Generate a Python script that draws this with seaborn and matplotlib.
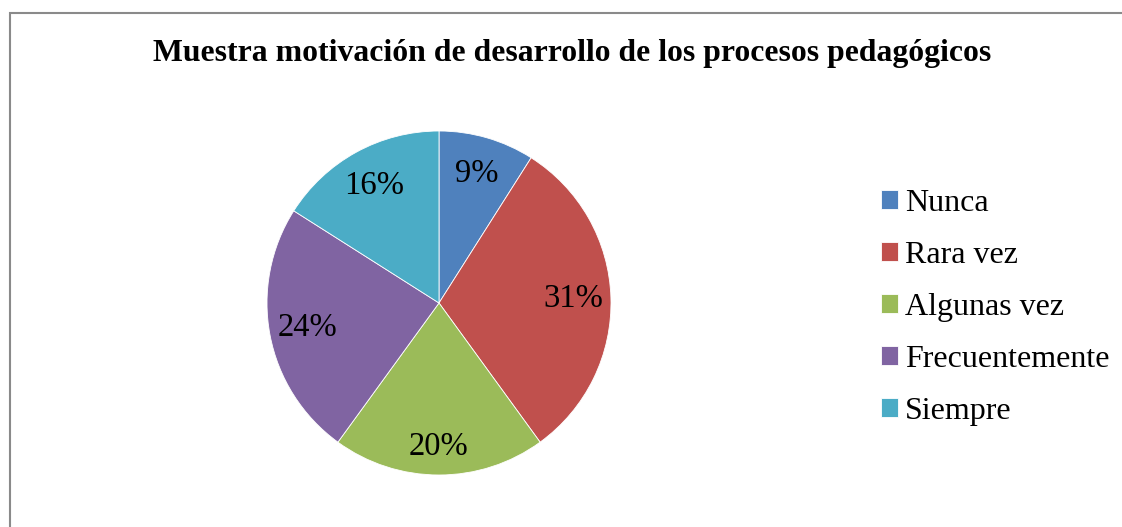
import matplotlib
matplotlib.use("Agg")
import matplotlib.pyplot as plt
import seaborn as sns
from matplotlib.patches import Rectangle

# Chart data
categories = ["Nunca", "Rara vez", "Algunas vez", "Frecuentemente", "Siempre"]
shares = [9, 31, 20, 24, 16]
title = "Muestra motivación de desarrollo de los procesos pedagógicos"
colors = ["#4F81BD", "#C0504D", "#9BBB59", "#8064A2", "#4BACC6"]

sns.set_theme(style="white")
plt.rcParams["font.family"] = ["Liberation Serif", "DejaVu Serif"]
plt.rcParams["text.color"] = "black"

W, H = 1122, 527
fig = plt.figure(figsize=(W / 100, H / 100), dpi=100)
fig.patch.set_facecolor("white")

# chart border (gray frame, runs off the right/bottom edge)
fig.add_artist(Rectangle((9.5 / W, -0.05), 1.2, 1 - 12.5 / H + 0.05,
                         transform=fig.transFigure, fill=False,
                         edgecolor="#8a8a8a", linewidth=1.5))

# pie axes: center (439, 303), radius 172 px
cx, cy, r = 439, 303, 172
ax = fig.add_axes([(cx - r) / W, (H - cy - r) / H, 2 * r / W, 2 * r / H])
wedges, texts, autotexts = ax.pie(
    shares, colors=sns.color_palette(colors), startangle=90, counterclock=False,
    autopct="%d%%", pctdistance=0.78, radius=1,
    wedgeprops=dict(edgecolor="white", linewidth=0.6),
    textprops=dict(fontsize=23.5, color="black"))
ax.set_xlim(-1, 1)
ax.set_ylim(-1, 1)
ax.set_aspect("equal")
ax.axis("off")

# the bottom label sits a bit further out in the original (best-fit placement)
x, y = autotexts[2].get_position()
autotexts[2].set_position((x * 1.07, y * 1.07))

fig.text(572 / W, 1 - 53 / H, title, ha="center", va="center",
         fontsize=22.9, fontweight="bold", color="black")

leg = fig.legend(wedges, categories, loc="upper left",
                 bbox_to_anchor=(881 / W, 1 - 189 / H), frameon=False,
                 fontsize=23, handlelength=0.54, handleheight=0.54,
                 handletextpad=0.22, labelspacing=0.72, borderpad=0,
                 borderaxespad=0)
for t in leg.get_texts():
    t.set_color("black")

fig.savefig("out.png", dpi=100)
